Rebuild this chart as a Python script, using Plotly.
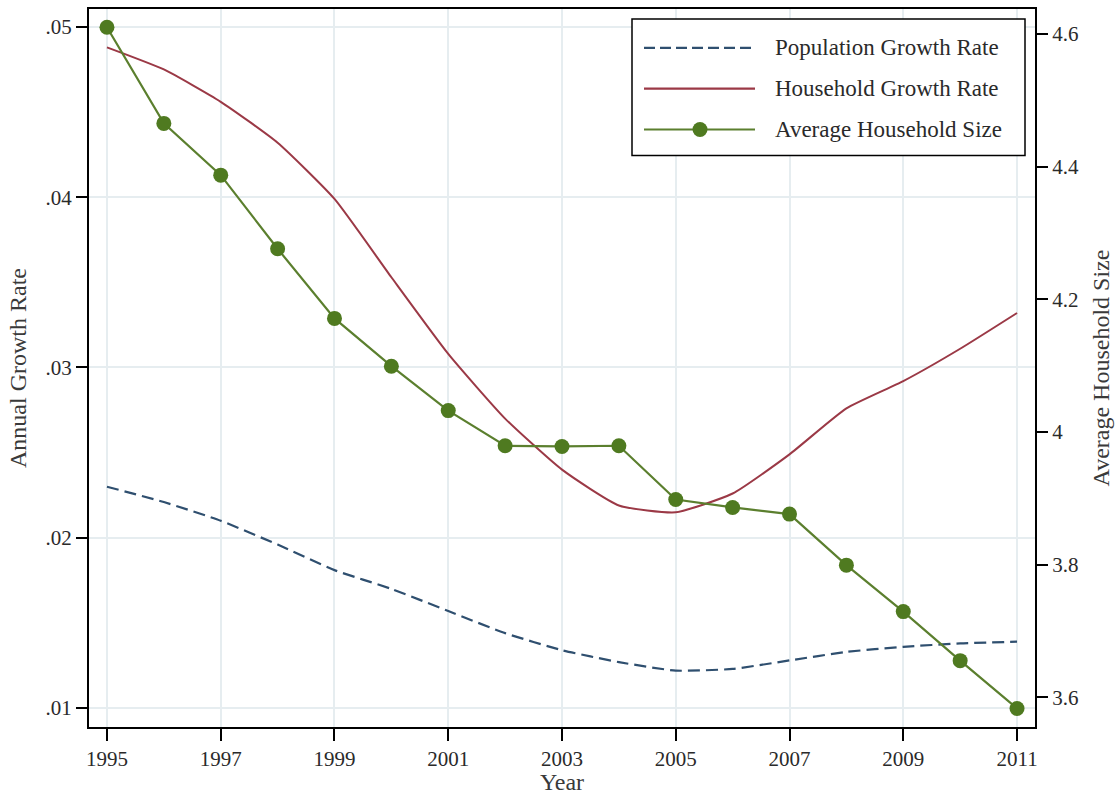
import plotly.graph_objects as go

# Years covered
years = list(range(1995, 2012))

# Annual growth rates (left axis)
population_growth = [0.0230, 0.0221, 0.0210, 0.0196, 0.0181, 0.0170, 0.0157, 0.0144, 0.0134,
                     0.0127, 0.0122, 0.0123, 0.0128, 0.0133, 0.0136, 0.0138, 0.0139]
household_growth = [0.0488, 0.0475, 0.0456, 0.0432, 0.0399, 0.0353, 0.0308, 0.0270, 0.0240,
                    0.0219, 0.0215, 0.0226, 0.0249, 0.0276, 0.0292, 0.0311, 0.0332]

# Average household size (right axis)
household_size = [4.61, 4.465, 4.387, 4.276, 4.171, 4.099, 4.032, 3.979, 3.978,
                  3.979, 3.898, 3.886, 3.876, 3.799, 3.729, 3.655, 3.583]

# Tick labels
x_ticks = [1995, 1997, 1999, 2001, 2003, 2005, 2007, 2009, 2011]
left_tick_vals = [0.01, 0.02, 0.03, 0.04, 0.05]
left_tick_text = [".01", ".02", ".03", ".04", ".05"]
right_tick_vals = [3.6, 3.8, 4.0, 4.2, 4.4, 4.6]
right_tick_text = ["3.6", "3.8", "4", "4.2", "4.4", "4.6"]

legend_names = ["Population Growth Rate", "Household Growth Rate", "Average Household Size"]

BLUE = "#2f4f6f"
RED = "#9b3946"
GREEN = "#5b7f2e"
MARKER_GREEN = "#4f7a20"
GRID = "#e6edf0"
FONT = "Liberation Serif"
TEXT = "#2a2a2a"
TITLE = "#3a3a3a"

fig = go.Figure()

fig.add_trace(go.Scatter(
    x=years, y=population_growth, mode="lines", name=legend_names[0],
    line=dict(color=BLUE, width=2.2, dash="12px,6px", shape="spline", smoothing=0.5),
    yaxis="y", showlegend=False))

fig.add_trace(go.Scatter(
    x=years, y=household_growth, mode="lines", name=legend_names[1],
    line=dict(color=RED, width=2, shape="spline", smoothing=0.5),
    yaxis="y", showlegend=False))

fig.add_trace(go.Scatter(
    x=years, y=household_size, mode="lines+markers", name=legend_names[2],
    line=dict(color=GREEN, width=2.2),
    marker=dict(color=MARKER_GREEN, size=15),
    yaxis="y2", showlegend=False))

tick_font = dict(family=FONT, size=21, color=TEXT)
title_font = dict(family=FONT, size=24, color=TITLE)

fig.update_layout(
    width=1117, height=795,
    margin=dict(l=89, r=82, t=7, b=67),
    paper_bgcolor="white", plot_bgcolor="white",
    font=dict(family=FONT, size=21, color=TEXT),
    xaxis=dict(
        range=[1994.684, 2011.316], tickvals=x_ticks,
        showgrid=True, gridcolor=GRID, gridwidth=1.5,
        showline=True, linecolor="black", linewidth=2, mirror=True,
        ticks="outside", ticklen=12, tickwidth=1.5, tickcolor="black",
        tickfont=tick_font, zeroline=False,
        title=dict(text="Year", font=title_font, standoff=0),
    ),
    yaxis=dict(
        range=[0.00889, 0.05105], tickvals=left_tick_vals, ticktext=left_tick_text,
        showgrid=True, gridcolor=GRID, gridwidth=1.5,
        showline=True, linecolor="black", linewidth=2,
        ticks="outside", ticklen=11, tickwidth=1.5, tickcolor="black",
        tickfont=tick_font, zeroline=False,
        title=dict(text="Annual Growth Rate", font=title_font, standoff=12),
    ),
    yaxis2=dict(
        range=[3.555, 4.6375], tickvals=right_tick_vals, ticktext=right_tick_text,
        overlaying="y", side="right", showgrid=False,
        showline=True, linecolor="black", linewidth=2,
        ticks="outside", ticklen=11, tickwidth=1.5, tickcolor="black",
        tickfont=tick_font, zeroline=False,
        title=dict(text="Average Household Size", font=title_font, standoff=14),
    ),
)

# Legend box drawn in paper coordinates
plot_w = 1117 - 89 - 82
plot_h = 795 - 7 - 67


def px(x):
    return (x - 89) / plot_w


def py(y):
    return 1 - (y - 7) / plot_h


fig.add_shape(type="rect", xref="paper", yref="paper",
              x0=px(632), x1=px(1025), y0=py(154), y1=py(17),
              line=dict(color="black", width=1.5), fillcolor="white", layer="above")

legend_rows = [46, 87, 128]
legend_styles = [dict(color=BLUE, width=2.2, dash="11px,5px"),
                 dict(color=RED, width=2.2),
                 dict(color=GREEN, width=2.2)]
for row_y, style, label in zip(legend_rows, legend_styles, legend_names):
    fig.add_shape(type="line", xref="paper", yref="paper",
                  x0=px(644), x1=px(755), y0=py(row_y), y1=py(row_y),
                  line=style, layer="above")
    fig.add_annotation(xref="paper", yref="paper", x=px(773), y=py(row_y),
                       text=label, showarrow=False, xanchor="left", yanchor="middle",
                       font=dict(family=FONT, size=23, color=TEXT))

# Marker sample for the household-size entry
r = 7.5
fig.add_shape(type="circle", xref="paper", yref="paper",
              x0=px(700 - r), x1=px(700 + r), y0=py(128 + r), y1=py(128 - r),
              line=dict(color=MARKER_GREEN, width=0), fillcolor=MARKER_GREEN, layer="above")

fig.write_html("out.html")
